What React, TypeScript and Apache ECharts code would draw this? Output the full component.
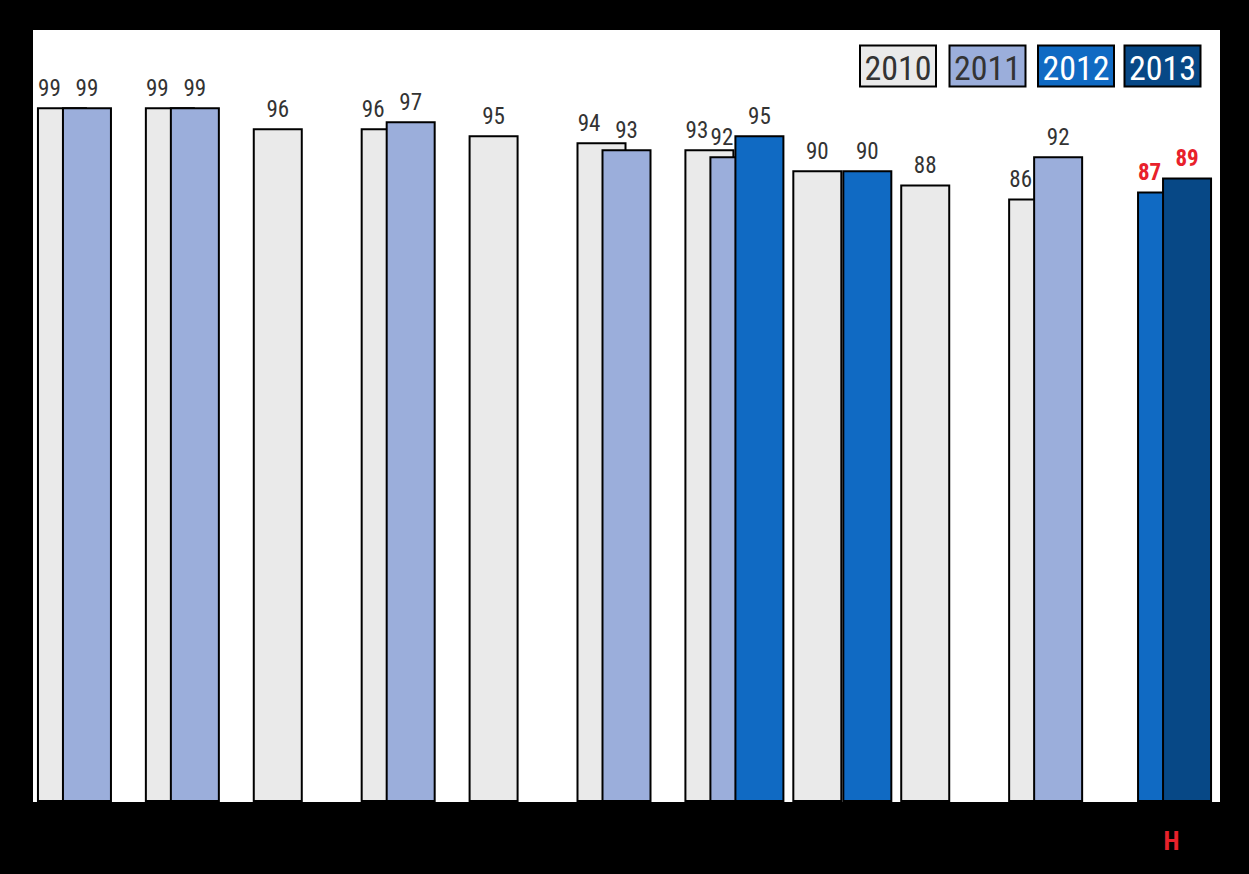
import React, { useEffect, useRef } from "react";
import * as echarts from "echarts";

const categories = ["c1", "c2", "c3", "c4", "c5", "c6", "c7", "c8", "c9", "c10", "H"];
const years = ["2010", "2011", "2012", "2013"];
const v2010 = [99, 99, 96, 96, 95, 94, 93, 90, 88, 86, null];
const v2011 = [99, 99, null, 97, null, 93, 92, null, null, 92, null];
const v2012 = [null, null, null, null, null, null, 95, 90, null, null, 87];
const v2013 = [null, null, null, null, null, null, null, null, null, null, 89];
const highlight = "H";

const COLORS = ["#EAEAEA", "#9BAEDB", "#106AC3", "#074886"];
const LEGEND_TEXT = ["#333333", "#333333", "#FFFFFF", "#FFFFFF"];
const FONT = "'Liberation Sans Narrow', 'Arial Narrow', 'Roboto Condensed', 'Liberation Sans', Arial, sans-serif";

type V = number | null;

export default function App() {
  const ref = useRef<HTMLDivElement>(null);

  useEffect(() => {
    document.body.style.margin = "0";
    document.body.style.background = "#000";
    if (!ref.current) return;
    const chart = echarts.init(ref.current, undefined, { renderer: "svg" });

    // categories that hold a 2013 value are laid out as their own group
    const inB = (i: number) => v2013[i] != null;
    const groupA: V[][] = [
      v2010.map((v, i) => (inB(i) ? null : v)),
      v2011.map((v, i) => (inB(i) ? null : v)),
      v2012.map((v, i) => (inB(i) ? null : v)),
    ];
    const groupB: V[][] = [
      v2012.map((v, i) => (inB(i) ? v : null)),
      v2013.map((v, i) => (inB(i) ? v : null)),
    ];

    const mkData = (grp: V[][], s: number) =>
      grp[s].map((v, i) => {
        if (v == null) return null;
        const covered = s + 1 < grp.length && grp[s + 1][i] != null;
        const hi = categories[i] === highlight;
        return {
          value: v,
          label: {
            offset: [covered ? -12.5 : 0, 0],
            color: hi ? "#E8212B" : "#333333",
            fontWeight: hi ? "bold" : "normal",
          },
        };
      });

    const baseSeries = (name: string, colorIdx: number, data: any[], axis: number) => ({
      type: "bar",
      name,
      xAxisIndex: axis,
      yAxisIndex: axis,
      data,
      barWidth: 50,
      barGap: "-50%",
      itemStyle: { color: COLORS[colorIdx], borderColor: "#000", borderWidth: 2 },
      label: {
        show: true,
        position: "top",
        distance: 7,
        fontSize: 23,
        fontFamily: FONT,
        color: "#333333",
      },
      emphasis: { disabled: true },
    });

    const series = [
      baseSeries(years[0], 0, mkData(groupA, 0), 0),
      baseSeries(years[1], 1, mkData(groupA, 1), 0),
      baseSeries(years[2], 2, mkData(groupA, 2), 0),
      baseSeries(years[2], 2, mkData(groupB, 0), 1),
      baseSeries(years[3], 3, mkData(groupB, 1), 1),
    ];

    const legendX = [860, 949.5, 1038, 1124.5];
    const graphic = years.map((y, i) => ({
      type: "group",
      x: legendX[i],
      y: 45.5,
      children: [
        {
          type: "rect",
          shape: { x: 0, y: 0, width: 76, height: 41 },
          style: { fill: COLORS[i], stroke: "#000", lineWidth: 2 },
        },
        {
          type: "text",
          x: 38,
          y: 22,
          style: {
            text: y,
            fill: LEGEND_TEXT[i],
            font: `34px ${FONT}`,
            align: "center",
            verticalAlign: "middle",
          },
        },
      ],
    }));

    chart.setOption({
      animation: false,
      backgroundColor: "#000",
      grid: [
        { left: 33, right: 29, top: 30, bottom: 72, show: true, backgroundColor: "#FFFFFF", borderWidth: 0 },
        { left: 41.5, right: 20.5, top: 30, bottom: 72, show: false },
      ],
      xAxis: [
        {
          type: "category",
          gridIndex: 0,
          data: categories,
          axisLine: { show: false },
          axisTick: { show: false },
          axisLabel: {
            margin: 26,
            fontSize: 26,
            fontWeight: "bold",
            fontFamily: FONT,
            color: "#E8212B",
            padding: [0, 0, 0, 11],
            formatter: (v: string) => (v === highlight ? v : ""),
          },
        },
        {
          type: "category",
          gridIndex: 1,
          data: categories,
          show: false,
        },
      ],
      yAxis: [
        { type: "value", gridIndex: 0, min: 0, max: 110, show: false, splitLine: { show: false } },
        { type: "value", gridIndex: 1, min: 0, max: 110, show: false, splitLine: { show: false } },
      ],
      series,
      graphic,
    });

    return () => chart.dispose();
  }, []);

  return <div ref={ref} style={{ width: 1249, height: 874 }} />;
}
